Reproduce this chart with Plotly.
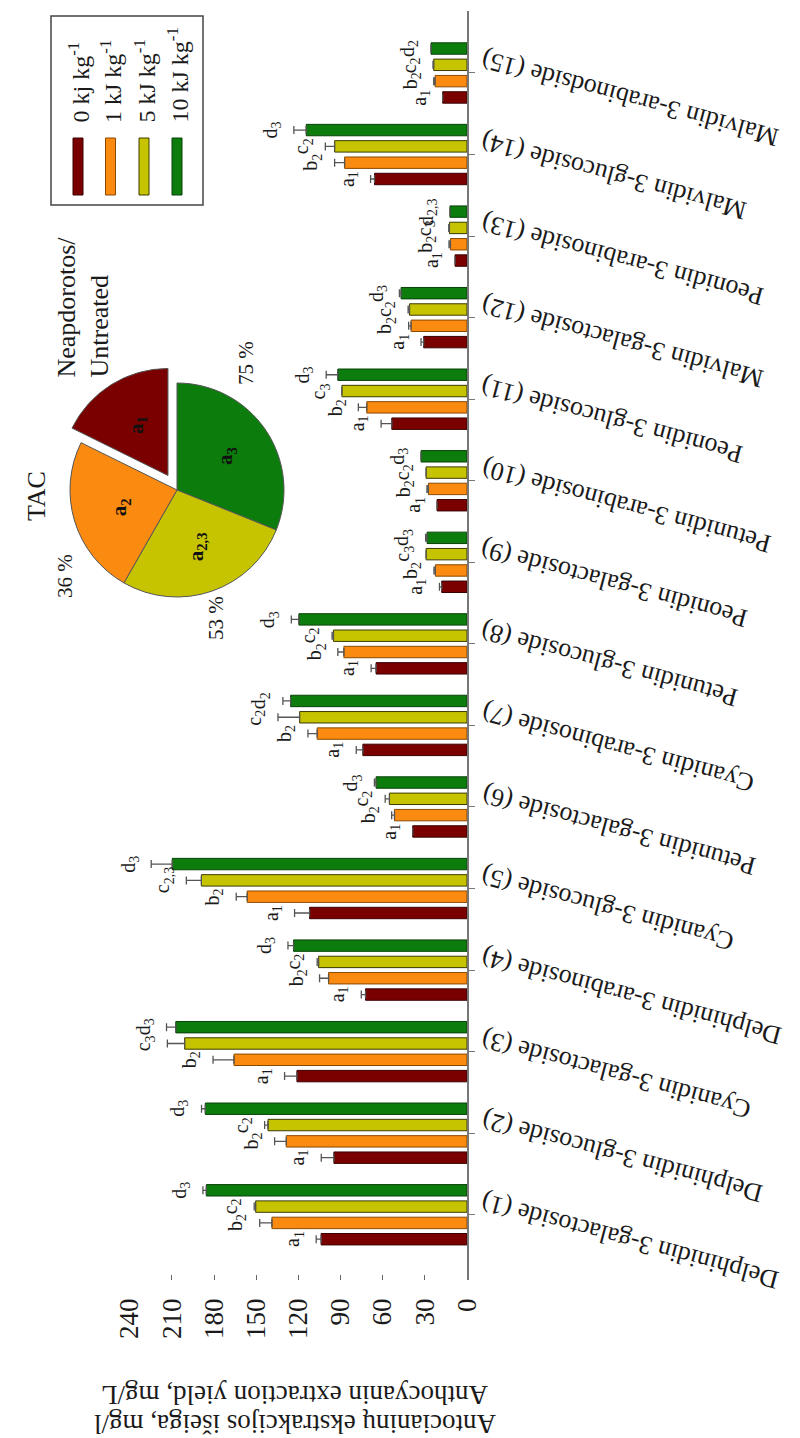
import math
import plotly.graph_objects as go

# ---------------- data ----------------
categories = [
    "Delphinidin 3-galactoside (1)", "Delphinidin 3-glucoside (2)",
    "Cyanidin 3-galactoside (3)", "Delphinidin 3-arabinoside (4)",
    "Cyanidin 3-glucoside (5)", "Petunidin 3-galactoside (6)",
    "Cyanidin 3-arabinoside (7)", "Petunidin 3-glucoside (8)",
    "Peonidin 3-galactoside (9)", "Petunidin 3-arabinoside (10)",
    "Peonidin 3-glucoside (11)", "Malvidin 3-galactoside (12)",
    "Peonidin 3-arabinoside (13)", "Malvidin 3-glucoside (14)",
    "Malvidin 3-arabinodside (15)",
]
series_names = ["0 kj kg<sup>-1</sup>", "1 kJ kg<sup>-1</sup>", "5 kJ kg<sup>-1</sup>", "10 kJ kg<sup>-1</sup>"]

dose_0 = [103.8, 94.7, 121.0, 72.2, 112.0, 38.6, 74.1, 64.7, 18.0, 21.3, 53.5, 30.8, 8.5, 65.8, 17.3]
err_0 = [3.5, 9.0, 8.8, 3.0, 10.7, 0.0, 4.7, 3.5, 1.6, 0.0, 7.6, 1.9, 0.0, 2.8, 0.0]
dose_1 = [138.8, 128.6, 165.8, 98.5, 156.4, 51.6, 106.6, 87.6, 22.5, 27.5, 71.3, 39.8, 11.8, 87.1, 22.7]
err_1 = [8.7, 8.3, 14.9, 6.4, 7.8, 2.0, 6.6, 4.3, 1.0, 1.0, 6.0, 1.7, 1.0, 7.1, 1.0]
dose_5 = [150.4, 141.6, 200.9, 105.6, 189.0, 55.2, 119.1, 95.0, 29.1, 29.1, 89.0, 40.9, 12.5, 94.2, 23.7]
err_5 = [1.0, 2.4, 12.3, 1.0, 10.7, 3.0, 15.4, 1.0, 0.0, 0.0, 0.0, 1.0, 0.5, 6.6, 0.5]
dose_10 = [185.5, 186.2, 207.2, 123.4, 209.7, 64.7, 125.5, 119.6, 28.4, 32.7, 91.9, 46.9, 12.1, 114.4, 25.6]
err_10 = [2.4, 2.7, 6.6, 4.0, 15.0, 1.2, 5.5, 5.4, 1.0, 0.0, 8.3, 1.2, 0.0, 8.8, 0.0]

lab_0 = ["a<sub>1</sub>"] * 15
lab_1 = ["b<sub>2</sub>"] * 15
lab_5 = ["c<sub>2</sub>", "c<sub>2</sub>", "c<sub>3</sub>", "c<sub>2</sub>", "c<sub>2,3</sub>",
         "c<sub>2</sub>", "c<sub>2</sub>", "c<sub>2</sub>", "c<sub>3</sub>", "c<sub>2</sub>",
         "c<sub>3</sub>", "c<sub>2</sub>", "c<sub>3</sub>", "c<sub>2</sub>", "c<sub>2</sub>"]
lab_10 = ["d<sub>3</sub>", "d<sub>3</sub>", "d<sub>3</sub>", "d<sub>3</sub>", "d<sub>3</sub>",
          "d<sub>3</sub>", "d<sub>2</sub>", "d<sub>3</sub>", "d<sub>3</sub>", "d<sub>3</sub>",
          "d<sub>3</sub>", "d<sub>3</sub>", "d<sub>2,3</sub>", "d<sub>3</sub>", "d<sub>2</sub>"]

value_ticks = [0, 30, 60, 90, 120, 150, 180, 210, 240]

pie_letters = ["a<sub>1</sub>", "a<sub>2</sub>", "a<sub>2,3</sub>", "a<sub>3</sub>"]
pie_pull = [0.16, 0, 0, 0]
pie_pct = ["", "36 %", "53 %", "75 %"]

colors = ["#7a0000", "#fb8a10", "#c6c400", "#0c7c0c"]
edge_colors = ["#3a0000", "#8a4a00", "#3a3a00", "#0a430a"]

FONT = "Liberation Serif, Times New Roman, serif"
TXT = "#1a1a1a"

# ---------------- geometry helpers (pixels -> paper) ----------------
W, H = 800, 1438
PL, PR, PT, PB = 20, 459, 3, 1272


def px(xp):
    return (xp - PL) / (PR - PL)


def py(yp):
    return (PB - yp) / (PB - PT)


cat_idx = list(range(1, len(categories) + 1))
all_vals = [dose_0, dose_1, dose_5, dose_10]
all_errs = [err_0, err_1, err_5, err_10]
all_labs = [lab_0, lab_1, lab_5, lab_10]

fig = go.Figure()

bargap, n_series = 0.2, 4
slot = (1 - bargap) / n_series
for s in range(n_series):
    fig.add_trace(go.Bar(
        y=cat_idx, x=all_vals[s], orientation="h", name=series_names[s],
        marker=dict(color=colors[s], line=dict(color=edge_colors[s], width=1)),
        error_x=dict(type="data", array=all_errs[s], arrayminus=[0] * 15,
                     symmetric=False, color="#555555", thickness=1.3, width=4),
        showlegend=False, hoverinfo="skip",
    ))

annotations = []
# letters next to bars
for s in range(n_series):
    off = -(1 - bargap) / 2 + slot * (s + 0.5)
    for i, c in enumerate(cat_idx):
        annotations.append(dict(
            x=all_vals[s][i] + all_errs[s][i], y=c + off, xref="x", yref="y",
            text=all_labs[s][i], textangle=-90, showarrow=False,
            xanchor="right", yanchor="middle", xshift=-8,
            font=dict(family=FONT, size=20, color=TXT),
        ))

# category labels (upside-down, tilted)
for i, c in enumerate(cat_idx):
    annotations.append(dict(
        x=1, y=c, xref="paper", yref="y", text=categories[i], textangle=-165,
        showarrow=False, xanchor="left", yanchor="top", xshift=9, yshift=30,
        font=dict(family=FONT, size=26, color=TXT),
    ))

# value axis title (upside-down, two lines)
annotations.append(dict(x=px(287), y=py(1387), xref="paper", yref="paper",
                        text="Anthocyanin extraction yield, mg/L", textangle=180,
                        showarrow=False, xanchor="center", yanchor="middle",
                        font=dict(family=FONT, size=27, color=TXT)))
annotations.append(dict(x=px(287), y=py(1416), xref="paper", yref="paper",
                        text="Antocianinų ekstrakcijos išeiga, mg/l", textangle=180,
                        showarrow=False, xanchor="center", yanchor="middle",
                        font=dict(family=FONT, size=27, color=TXT)))

# ---------------- manual legend (rotated) ----------------
shapes = [dict(type="rect", xref="paper", yref="paper", x0=px(43), x1=px(195),
               y0=py(197), y1=py(8), line=dict(color="#444444", width=1.5),
               fillcolor="rgba(0,0,0,0)")]
leg_x = [70, 102.5, 136, 169]
for s in range(n_series):
    shapes.append(dict(type="rect", xref="paper", yref="paper",
                       x0=px(leg_x[s] - 5), x1=px(leg_x[s] + 5),
                       y0=py(187), y1=py(130), fillcolor=colors[s],
                       line=dict(color=edge_colors[s], width=1)))
    annotations.append(dict(x=px(leg_x[s]), y=py(117), xref="paper", yref="paper",
                            text=series_names[s], textangle=-90, showarrow=False,
                            xanchor="center", yanchor="bottom",
                            font=dict(family=FONT, size=24, color=TXT)))

# ---------------- pie (TAC) ----------------
TAC = [sum(v) for v in all_vals]
cx, cy, r = 169, 482, 107
half = r * (1 + max(pie_pull))
# clockwise from 12 o'clock: 10, 5, 1, 0 kJ/kg
fig.add_trace(go.Pie(
    values=TAC[::-1], labels=series_names[::-1], sort=False, direction="clockwise",
    rotation=0, pull=pie_pull[::-1], textinfo="none", hoverinfo="skip", showlegend=False,
    marker=dict(colors=colors[::-1], line=dict(color="#555555", width=1)),
    domain=dict(x=[px(cx - half), px(cx + half)], y=[py(cy + half), py(cy - half)]),
))

tot = sum(TAC)
cum = 0.0
for i, v in enumerate(TAC):
    frac = v / tot
    mid = math.radians(-(cum + frac / 2) * 360)
    cum += frac
    dist = 0.56 * r + pie_pull[i] * r
    lx = cx + dist * math.sin(mid)
    ly = cy - dist * math.cos(mid)
    annotations.append(dict(x=px(lx), y=py(ly), xref="paper", yref="paper",
                            text="<b>" + pie_letters[i] + "</b>", textangle=-90,
                            showarrow=False, xanchor="center", yanchor="middle",
                            font=dict(family=FONT, size=21, color="#111111")))

pct_pos = [None, (57, 568), (208, 610), (238, 355)]
for t, pos in zip(pie_pct, pct_pos):
    if not t:
        continue
    annotations.append(dict(x=px(pos[0]), y=py(pos[1]), xref="paper", yref="paper", text=t,
                            textangle=-90, showarrow=False, xanchor="center",
                            yanchor="middle", font=dict(family=FONT, size=21, color=TXT)))

annotations.append(dict(x=px(75), y=py(372), xref="paper", yref="paper",
                        text="Neapdorotos/<br>Untreated", textangle=-90, showarrow=False,
                        xanchor="center", yanchor="bottom", align="left",
                        font=dict(family=FONT, size=26, color=TXT)))
annotations.append(dict(x=px(28), y=py(488), xref="paper", yref="paper",
                        text="TAC", textangle=-90, showarrow=False,
                        xanchor="center", yanchor="middle",
                        font=dict(family=FONT, size=26, color=TXT)))

fig.update_layout(
    width=W, height=H, barmode="group", bargap=bargap, bargroupgap=0.3,
    paper_bgcolor="white", plot_bgcolor="white",
    margin=dict(l=PL, r=W - PR, t=PT, b=H - PB, pad=0),
    font=dict(family=FONT, color=TXT),
    xaxis=dict(domain=[px(121.7), 1], range=[240, 0], tickvals=value_ticks,
               ticks="inside", ticklen=5, tickcolor="#666666", tickangle=-90,
               tickfont=dict(family=FONT, size=27, color=TXT), ticklabelstandoff=12,
               showline=False, showgrid=False, zeroline=False, anchor="y"),
    yaxis=dict(range=[0.2, 15.76], side="right", showline=True, linecolor="#777777",
               linewidth=1.5, ticks="outside", ticklen=6, tickcolor="#777777",
               tickvals=cat_idx, showticklabels=False, showgrid=False,
               zeroline=False, anchor="x"),
    annotations=annotations, shapes=shapes,
)

fig.write_html("out.html")
